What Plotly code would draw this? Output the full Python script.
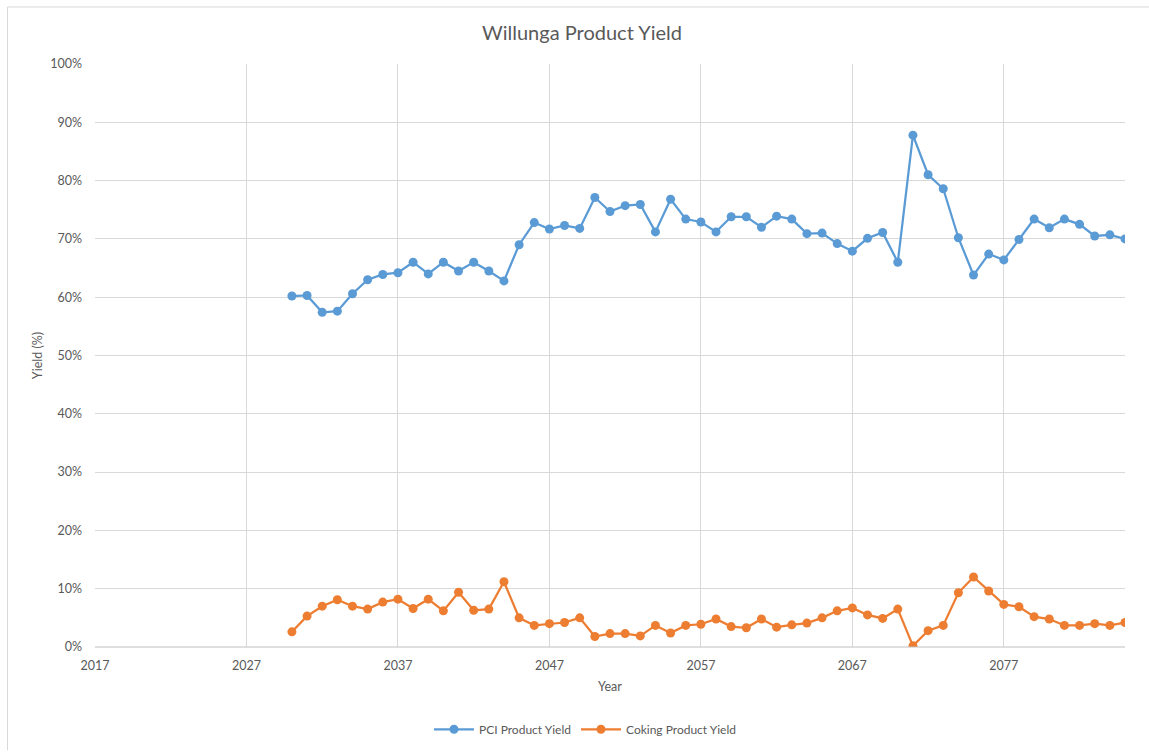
import plotly.graph_objects as go

# Annual product yields, 2030-2085 (%)
years = list(range(2030, 2086))

pci_yield = [
    60.2, 60.3, 57.4, 57.6, 60.6, 63.0, 63.9, 64.2, 66.0, 64.0,
    66.0, 64.5, 66.0, 64.5, 62.8, 69.0, 72.8, 71.7, 72.3, 71.8,
    77.1, 74.7, 75.7, 75.9, 71.2, 76.8, 73.4, 72.9, 71.2, 73.8,
    73.8, 72.0, 73.9, 73.4, 70.9, 71.0, 69.2, 67.9, 70.1, 71.1,
    66.0, 87.8, 81.0, 78.6, 70.2, 63.8, 67.4, 66.4, 69.9, 73.4,
    71.9, 73.4, 72.5, 70.5, 70.7, 70.0,
]

coking_yield = [
    2.6, 5.3, 7.0, 8.1, 7.0, 6.5, 7.7, 8.2, 6.6, 8.2,
    6.2, 9.4, 6.3, 6.5, 11.2, 5.0, 3.7, 4.0, 4.2, 5.0,
    1.8, 2.3, 2.3, 1.9, 3.7, 2.4, 3.7, 3.9, 4.8, 3.5,
    3.3, 4.8, 3.4, 3.8, 4.1, 5.0, 6.2, 6.7, 5.5, 4.9,
    6.5, 0.2, 2.8, 3.7, 9.3, 12.0, 9.6, 7.3, 6.9, 5.2,
    4.8, 3.7, 3.7, 4.0, 3.7, 4.2,
]

x_ticks = [2017, 2027, 2037, 2047, 2057, 2067, 2077]
y_ticks = [0, 10, 20, 30, 40, 50, 60, 70, 80, 90, 100]
y_tick_labels = [f"{v}%" for v in y_ticks]

FONT = "Lato, 'Open Sans', sans-serif"
TEXT = "#595959"
GRID = "#d9d9d9"

W, H = 1149, 756
ML, MR, MT, MB = 95, 24, 64, 104
PW, PH = W - ML - MR, H - MT - MB


def py(pixel_y):
    """Convert a page y position (px from top) into paper coordinates."""
    return (H - MB - pixel_y) / PH


def px(pixel_x):
    """Convert a page x position (px from left) into paper coordinates."""
    return (pixel_x - ML) / PW


fig = go.Figure()
fig.add_trace(go.Scatter(
    x=years, y=pci_yield, name="PCI Product Yield",
    mode="lines+markers",
    line=dict(color="#5B9BD5", width=2.25),
    marker=dict(color="#5B9BD5", size=9),
))
fig.add_trace(go.Scatter(
    x=years, y=coking_yield, name="Coking Product Yield",
    mode="lines+markers",
    line=dict(color="#ED7D31", width=2.25),
    marker=dict(color="#ED7D31", size=9),
))

fig.update_layout(
    width=W, height=H,
    margin=dict(l=ML, r=MR, t=MT, b=MB),
    paper_bgcolor="white", plot_bgcolor="white",
    font=dict(family=FONT, color=TEXT, size=12),
    title=dict(text="Willunga Product Yield", x=582 / W, xanchor="center",
               y=1 - 33 / H, yanchor="middle",
               font=dict(size=20, color=TEXT, family=FONT)),
    showlegend=True,
    legend=dict(orientation="h", x=px(585), xanchor="center",
                y=py(735), yanchor="middle",
                font=dict(size=12, color=TEXT), itemwidth=40),
    xaxis=dict(
        range=[2017, 2085], tickvals=x_ticks,
        showgrid=True, gridcolor=GRID, gridwidth=1,
        zeroline=False, showline=False, ticks="",
        ticklabelstandoff=9,
        tickfont=dict(size=12.5, color=TEXT),
        title=dict(text="Year", standoff=10, font=dict(size=12.5, color=TEXT)),
        automargin=False,
    ),
    yaxis=dict(
        range=[0, 100], tickvals=y_ticks, ticktext=y_tick_labels,
        showgrid=True, gridcolor=GRID, gridwidth=1,
        zeroline=False, showline=False, ticks="",
        ticklabelstandoff=12,
        tickfont=dict(size=12.5, color=TEXT),
        title=dict(text="Yield (%)", standoff=4, font=dict(size=12.5, color=TEXT)),
        automargin=False,
    ),
)

# bottom axis line along 0%
fig.add_shape(type="line", xref="paper", yref="paper",
              x0=0, x1=1, y0=0, y1=0, line=dict(color="#bfbfbf", width=1))
# chart frame (left and top edges)
fig.add_shape(type="line", xref="paper", yref="paper",
              x0=px(7.5), x1=px(7.5), y0=py(H), y1=py(6.5),
              line=dict(color="#d9d9d9", width=1))
fig.add_shape(type="line", xref="paper", yref="paper",
              x0=px(7.5), x1=px(W), y0=py(6.5), y1=py(6.5),
              line=dict(color="#d9d9d9", width=1))

fig.write_html("out.html")
